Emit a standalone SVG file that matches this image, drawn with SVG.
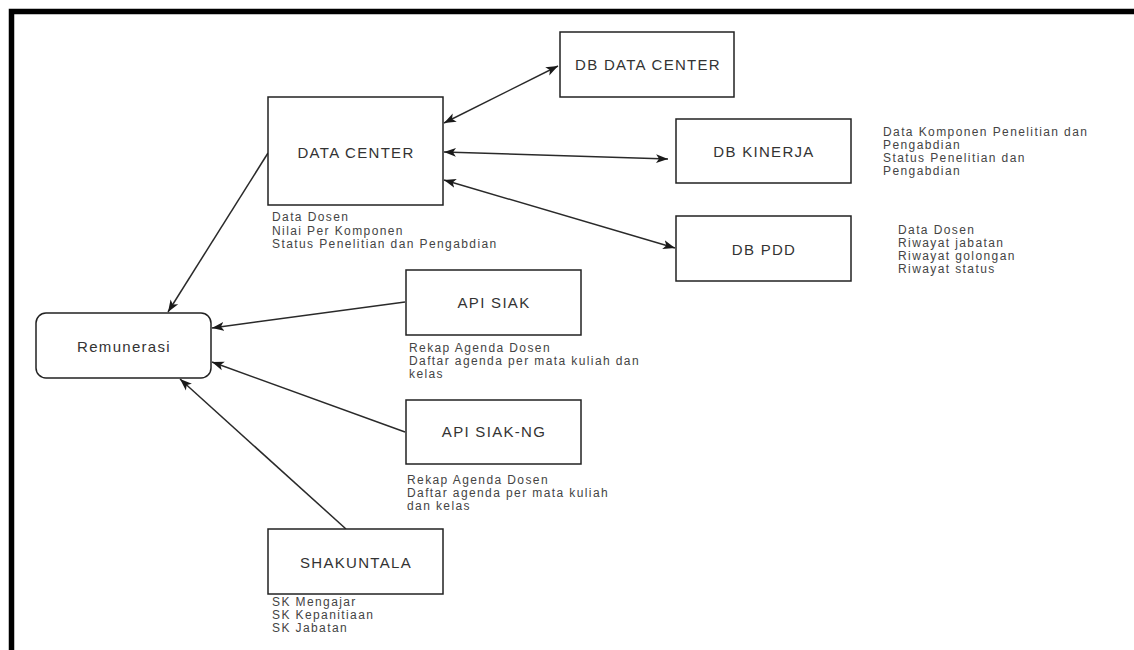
<svg xmlns="http://www.w3.org/2000/svg" width="1134" height="650" viewBox="0 0 1134 650">
<style>
.box{fill:#fff;stroke:#222;stroke-width:1.5}
.nt{font-family:"Liberation Sans",Arial,sans-serif;font-size:15px;fill:#333;text-anchor:middle;letter-spacing:1.3px}
.lb{font-family:"Liberation Sans",Arial,sans-serif;font-size:12px;fill:#444;letter-spacing:1.4px}
.cn{fill:none;stroke:#2a2a2a;stroke-width:1.5}
</style>
<defs>
<marker id="ar" markerUnits="userSpaceOnUse" markerWidth="13" markerHeight="10" refX="12" refY="4.5" orient="auto-start-reverse" viewBox="0 0 13 9">
<path d="M0,0 L12,4.5 L0,9 L3,4.5 Z" fill="#1a1a1a"/>
</marker>
</defs>
<rect width="1134" height="650" fill="#fff"/>
<path d="M11.5,650 V11.5 H1134" fill="none" stroke="#000" stroke-width="5.5"/>
<g id="connectors">
<line class="cn" x1="444" y1="123" x2="558" y2="66" marker-start="url(#ar)" marker-end="url(#ar)"/>
<line class="cn" x1="444" y1="152" x2="668" y2="159" marker-start="url(#ar)" marker-end="url(#ar)"/>
<line class="cn" x1="444" y1="180" x2="675" y2="248" marker-start="url(#ar)" marker-end="url(#ar)"/>
<line class="cn" x1="268" y1="153" x2="168" y2="312" marker-end="url(#ar)"/>
<line class="cn" x1="405" y1="302" x2="212" y2="328" marker-end="url(#ar)"/>
<line class="cn" x1="405" y1="432" x2="212" y2="362" marker-end="url(#ar)"/>
<line class="cn" x1="346" y1="529" x2="180" y2="379" marker-end="url(#ar)"/>
</g>
<g id="data-center">
<rect class="box" x="268" y="97" width="175" height="108"/>
<text class="nt" x="356" y="158">DATA CENTER</text>
<text class="lb" x="272" y="221">Data Dosen</text>
<text class="lb" x="272" y="234.5">Nilai Per Komponen</text>
<text class="lb" x="272" y="248">Status Penelitian dan Pengabdian</text>
</g>
<g id="db-data-center">
<rect class="box" x="560" y="32" width="174" height="65"/>
<text class="nt" x="648" y="70">DB DATA CENTER</text>
</g>
<g id="db-kinerja">
<rect class="box" x="676" y="119" width="175" height="64"/>
<text class="nt" x="764" y="157">DB KINERJA</text>
<text class="lb" x="883" y="136">Data Komponen Penelitian dan</text>
<text class="lb" x="883" y="149">Pengabdian</text>
<text class="lb" x="883" y="162">Status Penelitian dan</text>
<text class="lb" x="883" y="175">Pengabdian</text>
</g>
<g id="db-pdd">
<rect class="box" x="676" y="216" width="175" height="65"/>
<text class="nt" x="764" y="255">DB PDD</text>
<text class="lb" x="898" y="234">Data Dosen</text>
<text class="lb" x="898" y="247">Riwayat jabatan</text>
<text class="lb" x="898" y="260">Riwayat golongan</text>
<text class="lb" x="898" y="273">Riwayat status</text>
</g>
<g id="remunerasi">
<rect class="box" x="36" y="313" width="175" height="65" rx="10" ry="10"/>
<text class="nt" x="124" y="352">Remunerasi</text>
</g>
<g id="api-siak">
<rect class="box" x="406" y="270" width="175" height="65"/>
<text class="nt" x="494" y="308">API SIAK</text>
<text class="lb" x="409" y="352">Rekap Agenda Dosen</text>
<text class="lb" x="409" y="365">Daftar agenda per mata kuliah dan</text>
<text class="lb" x="409" y="378">kelas</text>
</g>
<g id="api-siak-ng">
<rect class="box" x="406" y="400" width="175" height="64"/>
<text class="nt" x="494" y="437">API SIAK-NG</text>
<text class="lb" x="407" y="484">Rekap Agenda Dosen</text>
<text class="lb" x="407" y="497">Daftar agenda per mata kuliah</text>
<text class="lb" x="407" y="510">dan kelas</text>
</g>
<g id="shakuntala">
<rect class="box" x="268" y="529" width="175" height="65"/>
<text class="nt" x="356" y="568">SHAKUNTALA</text>
<text class="lb" x="272" y="606">SK Mengajar</text>
<text class="lb" x="272" y="619">SK Kepanitiaan</text>
<text class="lb" x="272" y="632">SK Jabatan</text>
</g>
</svg>
